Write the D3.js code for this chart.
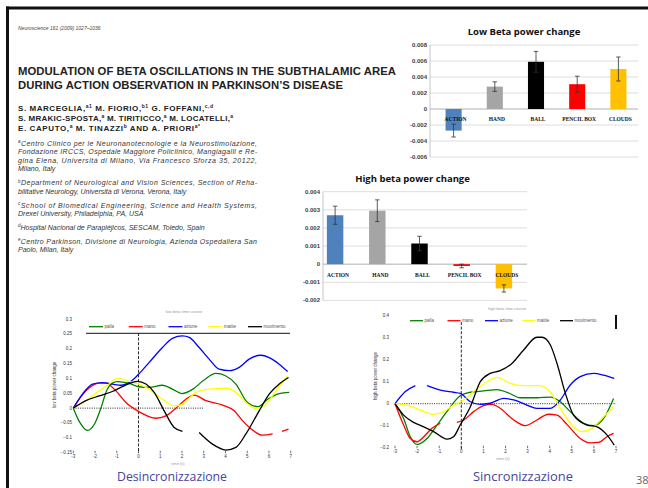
<!DOCTYPE html>
<html>
<head>
<meta charset="utf-8">
<script src="https://cdn.jsdelivr.net/npm/d3@7"></script>
<style>
  html, body { margin: 0; padding: 0; background: #fff; }
  svg { display: block; }
</style>
</head>
<body>
<svg id="slide" width="648" height="488"></svg>
<script>
// ---------- paper header ----------
const paperRef = "Neuroscience 161 (2009) 1027–1036";
const titleLines = [
  "MODULATION OF BETA OSCILLATIONS IN THE SUBTHALAMIC AREA",
  "DURING ACTION OBSERVATION IN PARKINSON’S DISEASE"
];
// each author line: segments of [text, superscript?]
const authorLines = [
  [["S. MARCEGLIA,", 0], ["a1", 1], [" M. FIORIO,", 0], ["b1", 1], [" G. FOFFANI,", 0], ["c,d", 1]],
  [["S. MRAKIC-SPOSTA,", 0], ["a", 1], [" M. TIRITICCO,", 0], ["a", 1], [" M. LOCATELLI,", 0], ["a", 1]],
  [["E. CAPUTO,", 0], ["a", 1], [" M. TINAZZI", 0], ["b", 1], [" AND A. PRIORI", 0], ["a*", 1]]
];
// affiliation lines: [marker, text, justified]
const affiliationLines = [
  ["a", "Centro Clinico per le Neuronanotecnologie e la Neurostimolazione,", true],
  ["", "Fondazione IRCCS, Ospedale Maggiore Policlinico, Mangiagalli e Re-", true],
  ["", "gina Elena, Università di Milano, Via Francesco Sforza 35, 20122,", true],
  ["", "Milano, Italy", false],
  ["b", "Department of Neurological and Vision Sciences, Section of Reha-", true],
  ["", "bilitative Neurology, Università di Verona, Verona, Italy", false],
  ["c", "School of Biomedical Engineering, Science and Health Systems,", true],
  ["", "Drexel University, Philadelphia, PA, USA", false],
  ["d", "Hospital Nacional de Parapléjicos, SESCAM, Toledo, Spain", false],
  ["e", "Centro Parkinson, Divisione di Neurologia, Azienda Ospedaliera San", true],
  ["", "Paolo, Milan, Italy", false]
];
const affiliationGroups = [0, 0, 0, 0, 1, 1, 2, 2, 3, 4, 4];

// ---------- bar charts ----------
const barCategories = ["ACTION", "HAND", "BALL", "PENCIL BOX", "CLOUDS"];
const barColors = ["#4f81bd", "#a5a5a5", "#000000", "#ff0000", "#ffc000"];
const lowBetaTitle = "Low Beta power change";
const lowBetaValues = [-0.0027, 0.0028, 0.0059, 0.0031, 0.0050];
const lowBetaErrors = [0.0008, 0.0006, 0.0013, 0.0010, 0.0015];
const lowBetaTicks = [0.008, 0.006, 0.004, 0.002, 0, -0.002, -0.004, -0.006];
const highBetaTitle = "High beta power change";
const highBetaValues = [0.0027, 0.00295, 0.00114, -0.0001, -0.00134];
const highBetaErrors = [0.0005, 0.0006, 0.0004, 0.0001, 0.0002];
const highBetaTicks = [0.004, 0.003, 0.002, 0.001, 0, -0.001, -0.002];

// ---------- time courses ----------
const conditionNames = ["palla", "mano", "azione", "matite", "movimento"];
const conditionColors = ["#008000", "#ff0000", "#0000ff", "#ffff00", "#000000"];
const timeTicks = [-3, -2, -1, 0, 1, 2, 3, 4, 5, 6, 7];
const desyncTicks = [-0.15, -0.1, -0.05, 0, 0.05, 0.1, 0.15, 0.2, 0.25, 0.3];
const syncTicks = [-0.2, -0.1, 0, 0.1, 0.2, 0.3, 0.4];

// low beta time course, [time, power change]; null marks a break in the trace
const desyncPalla = [[-3,0],[-2.7,-0.048],[-2.35,-0.075],[-2.0,-0.05],[-1.73,0],[-1.45,0.062],[-1.2,0.084],[-0.97,0.089],[-0.43,0.083],[0,0.072],[0.49,0.07],[1.1,0.077],[1.56,0.064],[2,0.049],[2.5,0.064],[3,0.094],[3.56,0.117],[4,0.109],[4.48,0.081],[5.0,0.02],[5.5,0.005],[5.94,0.03],[6.47,0.049],[6.93,0.053]];
const desyncMano = [[-3,0],[-2.42,0.058],[-1.81,0.084],[-1.5,0.084],[-1.04,0.058],[-0.58,0.019],[0,-0.011],[0.8,-0.034],[1.26,-0.026],[1.72,0],[2.18,0.03],[2.56,0.044],[3.1,0.025],[3.87,0.01],[4.4,-0.009],[4.79,-0.043],[5.25,-0.074],[5.7,-0.091],[6.17,-0.087],null,[6.6,-0.078],[6.9,-0.071]];
const desyncAzione = [[-3,0],[-2.58,0.047],[-2.12,0.081],[-1.66,0.086],[-1.2,0.081],[-0.81,0.077],[-0.35,0.09],[0,0.114],[0.49,0.154],[1.1,0.204],[1.56,0.235],[2.02,0.243],[2.33,0.238],[2.79,0.204],[3.25,0.165],[3.71,0.131],[4.17,0.126],[4.63,0.137],[5.09,0.165],[5.63,0.178],[6.01,0.17],[6.47,0.148],[6.86,0.123]];
const desyncMatite = [[-3,0],[-2.42,0.025],[-1.81,0.058],[-1.35,0.081],[-0.97,0.1],[-0.43,0.09],[0,0.081],[0.49,0.064],[1.1,0.03],[1.64,0.008],[2.02,0.013],[2.64,0.053],[3.25,0.064],[4.02,0.067],[4.48,0.053],[4.94,0.019],[5.48,-0.003],[5.86,0.013],[6.32,0.058],[6.86,0.109]];
const desyncMovimento = [[-3,0],[-2.42,0.025],[-1.81,0.041],[-1.2,0.056],[-0.66,0.075],[-0.05,0.09],[0.34,0.081],[0.72,0.053],[1.18,-0.009],[1.64,-0.065],[2.02,-0.078],null,[2.79,-0.082],[3.4,-0.121],[4.02,-0.141],[4.48,-0.132],[4.94,-0.087],[5.55,-0.009],[6.01,0.047],[6.47,0.081],[6.9,0.103]];

// high beta time course
const syncPalla = [[-3,0],[-2.61,-0.067],[-2.31,-0.15],[-2.0,-0.185],[-1.55,-0.158],[-1.1,-0.097],[-0.65,-0.036],[-0.05,0.036],[0.41,0.052],[1.01,0.058],[1.61,0.064],[2.07,0.052],[2.67,0.027],[3.42,0.027],[4.03,0.03],[4.48,0.009],[4.93,-0.036],[5.54,-0.089],[5.99,-0.1],[6.44,-0.067],[6.89,0.024]];
const syncMano = [[-3,0],[-2.61,-0.097],[-2.31,-0.158],[-2.0,-0.173],[-1.7,-0.15],[-1.33,-0.112],[-0.95,-0.089],null,[-0.2,-0.085],[0.11,-0.074],[0.56,-0.036],[1.01,-0.009],[1.39,-0.003],[1.76,-0.021],[2.37,-0.074],[2.9,-0.1],[3.42,-0.074],[3.95,-0.048],[4.33,-0.052],[4.78,-0.094],[5.38,-0.158],[5.84,-0.178],[6.21,-0.176],[6.59,-0.15],[6.89,-0.135]];
const syncAzione = [[-3,0],[-2.53,0.055],[-2.08,0.082],null,[-1.55,0.082],[-0.95,0.062],[-0.35,0.052],[-0.05,0.047],[0.41,0.009],[0.86,-0.003],[1.31,0.002],[1.92,0.024],[2.37,0.017],[2.97,-0.006],[3.42,-0.021],[4.03,-0.021],[4.48,0.017],[4.93,0.085],[5.38,0.123],[5.99,0.138],[6.44,0.13],[6.92,0.115]];
const syncMatite = [[-3,0],[-2.46,-0.006],[-1.86,-0.029],[-1.25,-0.048],[-0.8,-0.036],[-0.35,-0.006],[0.11,0.017],[0.63,0.062],[1.16,0.1],[1.61,0.12],[2.22,0.092],[2.82,0.082],[3.57,0.082],[4.03,0.052],[4.48,-0.021],[4.93,-0.089],[5.46,-0.127],[5.91,-0.112],[6.36,-0.067],[6.89,-0.014]];
const syncMovimento = [[-3,0],[-2.61,-0.052],[-2.16,-0.085],[-1.7,-0.105],[-1.25,-0.127],[-0.65,-0.161],[-0.35,-0.15],[-0.05,-0.097],[0.41,-0.014],[0.86,0.1],[1.31,0.138],[1.76,0.15],[2.29,0.183],[2.82,0.244],[3.42,0.302],[3.65,0.302],[4.03,0.267],[4.33,0.183],[4.71,0.047],[5.08,-0.052],[5.69,-0.097],[6.14,-0.105],[6.59,-0.142],[6.92,-0.188]];

const svg = d3.select("#slide");
const SANS = "'Liberation Sans', Arial, sans-serif";

// slide background and frame
svg.append("rect").attr("width", 648).attr("height", 488).attr("fill", "#fff");
svg.append("line").attr("x1", 6).attr("x2", 648).attr("y1", 8).attr("y2", 8)
  .attr("stroke", "#111").attr("stroke-width", 3);
svg.append("line").attr("x1", 7.5).attr("x2", 7.5).attr("y1", 6.5).attr("y2", 488)
  .attr("stroke", "#111").attr("stroke-width", 3);

// ---------- paper header ----------
const paper = svg.append("g").attr("font-family", SANS).attr("fill", "#222");
paper.append("text").attr("x", 18).attr("y", 30).attr("font-size", 5)
  .attr("font-style", "italic").attr("fill", "#444").text(paperRef);

paper.selectAll("text.title").data(titleLines).join("text")
  .attr("class", "title")
  .attr("x", 18).attr("y", (d, i) => 75 + i * 13.5)
  .attr("font-size", 11.3).attr("font-weight", "bold")
  .attr("textLength", (d, i) => [378, 325][i]).attr("lengthAdjust", "spacing")
  .text(d => d);

const authorText = paper.selectAll("text.author").data(authorLines).join("text")
  .attr("class", "author")
  .attr("x", 18).attr("y", (d, i) => 110.5 + i * 10)
  .attr("font-size", 8).attr("font-weight", "bold")
  .attr("textLength", (d, i) => [195, 215, 182][i]).attr("lengthAdjust", "spacing");
authorText.selectAll("tspan").data(d => d).join("tspan")
  .attr("font-size", d => d[1] ? 5 : 8)
  .attr("dy", (d, i, n) => {
    const prev = i > 0 ? n[i - 1].__data__[1] : 0;
    if (d[1] && !prev) return -3;
    if (!d[1] && prev) return 3;
    return 0;
  })
  .text(d => d[0]);

const affY = affiliationLines.map((d, i) => 145.5 + i * 8.6 + affiliationGroups[i] * 5.2);
const affText = paper.selectAll("text.aff").data(affiliationLines).join("text")
  .attr("class", "aff")
  .attr("x", 18).attr("y", (d, i) => affY[i])
  .attr("font-size", 7).attr("font-style", "italic").attr("fill", "#333")
  .attr("textLength", d => d[2] ? 239 : null).attr("lengthAdjust", "spacing");
affText.filter(d => d[0]).append("tspan").attr("font-size", 4.5).attr("dy", -2.5).text(d => d[0]);
affText.append("tspan").attr("dy", d => d[0] ? 2.5 : 0).text(d => d[1]);

// ---------- bar chart ----------
function barChart(cfg) {
  const g = svg.append("g");
  const y = d3.scaleLinear().domain(cfg.yDomain).range(cfg.yRange);
  const x = d3.scaleBand().domain(barCategories).range(cfg.xRange)
    .paddingInner(0.61).paddingOuter(0.305);

  // gridlines and zero axis
  g.selectAll("line.grid").data(cfg.ticks).join("line")
    .attr("x1", cfg.gridX[0]).attr("x2", cfg.gridX[1])
    .attr("y1", d => y(d)).attr("y2", d => y(d))
    .attr("stroke", d => d === 0 ? "#a6a6a6" : "#d9d9d9").attr("stroke-width", 0.9);
  g.append("line").attr("x1", cfg.gridX[0]).attr("x2", cfg.gridX[0])
    .attr("y1", y(cfg.yDomain[1])).attr("y2", y(cfg.yDomain[0]))
    .attr("stroke", "#bfbfbf").attr("stroke-width", 0.9);

  // tick labels
  g.selectAll("text.tick").data(cfg.ticks).join("text")
    .attr("x", cfg.gridX[0] - 3).attr("y", d => y(d) + 2)
    .attr("text-anchor", "end").attr("font-family", SANS)
    .attr("font-size", 6).attr("font-weight", "bold").attr("fill", "#404040")
    .text(d => d === 0 ? "0" : d.toFixed(3));

  // bars
  g.selectAll("rect.bar").data(cfg.values).join("rect")
    .attr("x", (d, i) => x(barCategories[i]))
    .attr("width", x.bandwidth())
    .attr("y", d => y(Math.max(0, d)))
    .attr("height", d => Math.abs(y(d) - y(0)))
    .attr("fill", (d, i) => barColors[i]);

  // error bars
  const err = g.selectAll("g.err").data(cfg.values).join("g")
    .attr("transform", (d, i) => `translate(${x(barCategories[i]) + x.bandwidth() / 2},0)`)
    .attr("stroke", "#333").attr("stroke-width", 0.8);
  err.append("line").attr("y1", (d, i) => y(d + cfg.errors[i])).attr("y2", (d, i) => y(d - cfg.errors[i]));
  err.append("line").attr("x1", -2.2).attr("x2", 2.2)
    .attr("y1", (d, i) => y(d + cfg.errors[i])).attr("y2", (d, i) => y(d + cfg.errors[i]));
  err.append("line").attr("x1", -2.2).attr("x2", 2.2)
    .attr("y1", (d, i) => y(d - cfg.errors[i])).attr("y2", (d, i) => y(d - cfg.errors[i]));

  // category labels
  g.selectAll("text.cat").data(barCategories).join("text")
    .attr("x", d => x(d) + x.bandwidth() / 2 + cfg.catShift)
    .attr("y", y(0) + cfg.catDy)
    .attr("text-anchor", "middle").attr("font-family", "'Liberation Serif', serif")
    .attr("font-size", 5.5).attr("font-weight", "bold").attr("fill", "#111")
    .text(d => d);

  // title
  g.append("text").attr("x", cfg.titlePos[0]).attr("y", cfg.titlePos[1])
    .attr("text-anchor", "middle").attr("font-family", "'Open Sans', sans-serif")
    .attr("font-size", 9.5).attr("font-weight", "bold").attr("fill", "#111")
    .text(cfg.title);
}

barChart({
  title: lowBetaTitle, titlePos: [524, 34.5],
  values: lowBetaValues, errors: lowBetaErrors, ticks: lowBetaTicks,
  yDomain: [-0.006, 0.008], yRange: [157, 45],
  xRange: [433, 639], gridX: [430, 638], catDy: 12, catShift: 2
});
barChart({
  title: highBetaTitle, titlePos: [412.5, 181.5],
  values: highBetaValues, errors: highBetaErrors, ticks: highBetaTicks,
  yDomain: [-0.002, 0.004], yRange: [300.4, 191.7],
  xRange: [314, 525], gridX: [323, 527], catDy: 13, catShift: 3
});

// ---------- time course chart ----------
function timeCourse(cfg) {
  const g = svg.append("g");
  const x = d3.scaleLinear().domain([-3, 7]).range(cfg.xRange);
  const y = d3.scaleLinear().domain(cfg.yDomain).range(cfg.yRange);
  const bottom = cfg.yRange[0];

  // x ticks and labels
  g.selectAll("line.xt").data(timeTicks).join("line")
    .attr("x1", d => x(d)).attr("x2", d => x(d))
    .attr("y1", bottom - 2).attr("y2", bottom + 0.5)
    .attr("stroke", "#333").attr("stroke-width", 0.7);
  g.selectAll("text.xt").data(timeTicks).join("text")
    .attr("x", d => x(d)).attr("y", bottom + cfg.xLabelDy)
    .attr("text-anchor", "middle").attr("font-family", SANS)
    .attr("font-size", 4.5).attr("fill", "#333")
    .text(d => d);

  // y labels
  g.selectAll("text.yt").data(cfg.yTicks).join("text")
    .attr("x", cfg.yLabelX).attr("y", d => y(d) + 1.5)
    .attr("text-anchor", "end").attr("font-family", SANS)
    .attr("font-size", 4.5).attr("fill", "#333")
    .text(d => d3.format(cfg.yFormat)(d));

  // axis titles
  g.append("text")
    .attr("transform", `translate(${cfg.yTitle[0]},${cfg.yTitle[1]}) rotate(-90)`)
    .attr("text-anchor", "middle").attr("font-family", SANS)
    .attr("font-size", 4.5).attr("fill", "#333").text(cfg.yTitleText);
  g.append("text").attr("x", cfg.xTitle[0]).attr("y", cfg.xTitle[1])
    .attr("text-anchor", "middle").attr("font-family", SANS)
    .attr("font-size", 4).attr("fill", "#999").text("time (s)");
  g.append("text").attr("x", cfg.title[0]).attr("y", cfg.title[1])
    .attr("text-anchor", "middle").attr("font-family", SANS)
    .attr("font-size", 4).attr("fill", "#999").text(cfg.titleText);

  // zero line and movement onset
  g.append("line")
    .attr("x1", x(-3)).attr("x2", x(cfg.zeroEnd))
    .attr("y1", y(0)).attr("y2", y(0))
    .attr("stroke", "#111").attr("stroke-width", 0.9).attr("stroke-dasharray", "1 1.3");
  g.append("line")
    .attr("x1", x(0)).attr("x2", x(0))
    .attr("y1", cfg.onsetY[0]).attr("y2", cfg.onsetY[1])
    .attr("stroke", "#111").attr("stroke-width", 0.9).attr("stroke-dasharray", "3 1.6");

  // traces
  const line = d3.line()
    .defined(d => d !== null)
    .x(d => x(d[0])).y(d => y(d[1]))
    .curve(d3.curveMonotoneX);
  g.selectAll("path.trace").data(cfg.series).join("path")
    .attr("d", d => line(d))
    .attr("fill", "none")
    .attr("stroke", (d, i) => conditionColors[i])
    .attr("stroke-width", 1.3);

  // legend
  const lx = d3.scalePoint().domain(conditionNames).range(cfg.legendX);
  const leg = g.selectAll("g.leg").data(conditionNames).join("g")
    .attr("transform", d => `translate(${lx(d)},${cfg.legendY})`);
  leg.append("line").attr("x1", 0).attr("x2", cfg.legendLine)
    .attr("stroke", (d, i) => conditionColors[i]).attr("stroke-width", 1.3);
  leg.append("text").attr("x", cfg.legendLine + 1.5).attr("y", 1.5)
    .attr("font-family", SANS).attr("font-size", 4.5).attr("fill", "#555")
    .text(d => d);
  if (cfg.legendRule) {
    g.append("line").attr("x1", cfg.legendRule[0]).attr("x2", cfg.legendRule[1])
      .attr("y1", cfg.legendRule[2]).attr("y2", cfg.legendRule[2])
      .attr("stroke", "#111").attr("stroke-width", 1);
  }
  if (cfg.rightBar) {
    g.append("line").attr("x1", cfg.rightBar[0]).attr("x2", cfg.rightBar[0])
      .attr("y1", cfg.rightBar[1]).attr("y2", cfg.rightBar[2])
      .attr("stroke", "#111").attr("stroke-width", 2);
  }

  // caption
  g.append("text").attr("x", cfg.caption[0]).attr("y", cfg.caption[1])
    .attr("text-anchor", "middle").attr("font-family", "'Open Sans', sans-serif")
    .attr("font-size", 12).attr("fill", "#45459c")
    .attr("textLength", cfg.caption[3]).attr("lengthAdjust", "spacingAndGlyphs")
    .text(cfg.caption[2]);
}

timeCourse({
  xRange: [73.3, 290.7], yDomain: [-0.15, 0.3], yRange: [452.7, 319],
  yTicks: desyncTicks, yFormat: "~g", yLabelX: 72,
  xLabelDy: 5, zeroEnd: 3, onsetY: [333, 453],
  series: [desyncPalla, desyncMano, desyncAzione, desyncMatite, desyncMovimento],
  legendX: [89, 248], legendY: 326.7, legendLine: 14, legendRule: [86, 290, 333.3],
  yTitle: [56, 385], yTitleText: "low beta power change",
  xTitle: [178, 464.5], title: [184, 313], titleText: "low beta time course",
  caption: [172, 481, "Desincronizzazione", 110]
});
timeCourse({
  xRange: [395, 616], yDomain: [-0.2, 0.4], yRange: [447.7, 315.7],
  yTicks: syncTicks, yFormat: "~g", yLabelX: 389,
  xLabelDy: 5, zeroEnd: 7, onsetY: [322, 450],
  series: [syncPalla, syncMano, syncAzione, syncMatite, syncMovimento],
  legendX: [410, 560], legendY: 320.7, legendLine: 13, rightBar: [616, 315, 329],
  yTitle: [377, 376], yTitleText: "high beta power change",
  xTitle: [503, 459.5], title: [507, 309.5], titleText: "high beta time course",
  caption: [523, 481, "Sincronizzazione", 100]
});

// page number
svg.append("text").attr("x", 636).attr("y", 484)
  .attr("font-family", "'Open Sans', sans-serif").attr("font-size", 11)
  .attr("fill", "#666").text("38");
</script>
</body>
</html>
